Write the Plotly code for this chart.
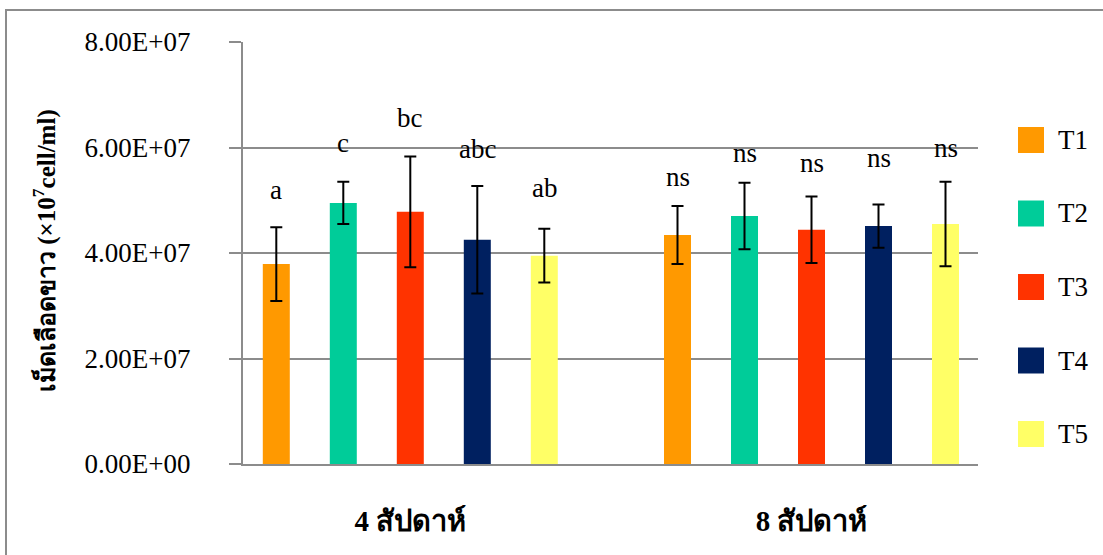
import plotly.graph_objects as go

# White blood cell counts by treatment and sampling week
weeks = ["4 สัปดาห์", "8 สัปดาห์"]
treatments = ["T1", "T2", "T3", "T4", "T5"]
colors = ["#FF9900", "#00CC99", "#FF3300", "#002060", "#FFFF66"]

mean_t1 = [37.9e6, 43.4e6]
mean_t2 = [49.5e6, 47.0e6]
mean_t3 = [47.8e6, 44.4e6]
mean_t4 = [42.5e6, 45.1e6]
mean_t5 = [39.5e6, 45.5e6]

sd_t1 = [7.0e6, 5.5e6]
sd_t2 = [4.0e6, 6.3e6]
sd_t3 = [10.5e6, 6.3e6]
sd_t4 = [10.2e6, 4.1e6]
sd_t5 = [5.1e6, 8.0e6]

# significance letters per treatment, per week
sig_t1 = ["a", "ns"]
sig_t2 = ["c", "ns"]
sig_t3 = ["bc", "ns"]
sig_t4 = ["abc", "ns"]
sig_t5 = ["ab", "ns"]

y_ticks = [0, 2e7, 4e7, 6e7, 8e7]
y_tick_text = [f"{v:.2E}" for v in y_ticks]

means = [mean_t1, mean_t2, mean_t3, mean_t4, mean_t5]
sds = [sd_t1, sd_t2, sd_t3, sd_t4, sd_t5]
sigs = [sig_t1, sig_t2, sig_t3, sig_t4, sig_t5]

# label heights (data units) for the letters above each bar
label_y = [
    [51.9e6, 54.4e6],
    [60.9e6, 59.0e6],
    [65.6e6, 57.1e6],
    [59.7e6, 58.0e6],
    [52.3e6, 59.9e6],
]

W, H = 1103, 555
L, R, T, B = 243, 125, 42, 91
pw, ph = W - L - R, H - T - B

def px_x(x):
    return (x - L) / pw

def px_y(y):
    return (H - B - y) / ph

SERIF = "Liberation Serif, Times New Roman, serif"
GRID = "#8C8C8C"

BARGAP = 0.165
BARGROUPGAP = 0.597
x_pos = list(range(len(weeks)))

fig = go.Figure()
for i, name in enumerate(treatments):
    fig.add_trace(go.Bar(
        x=x_pos, y=means[i], name=name,
        marker=dict(color=colors[i], line=dict(width=0)),
        error_y=dict(type="data", array=sds[i], visible=True,
                     color="black", thickness=2, width=6),
        showlegend=False,
    ))

slot = (1 - BARGAP) / len(treatments)
annotations = []
for i in range(len(treatments)):
    for j in range(len(weeks)):
        annotations.append(dict(
            x=x_pos[j] + (i - (len(treatments) - 1) / 2) * slot,
            y=label_y[i][j], xref="x", yref="y",
            text=sigs[i][j], showarrow=False,
            font=dict(family=SERIF, size=27, color="black"),
            xanchor="center", yanchor="middle",
        ))

# y-axis title
annotations.append(dict(
    x=px_x(45), y=px_y(251), xref="paper", yref="paper",
    text="<b>เม็ดเลือดขาว (×10<sup>7</sup>cell/ml)</b>",
    textangle=-90, showarrow=False,
    font=dict(family=SERIF, size=25, color="black"),
    xanchor="center", yanchor="middle",
))

shapes = []
# legend swatches and names
leg_y = [140, 213.5, 287, 360.5, 434]
for i, name in enumerate(treatments):
    shapes.append(dict(
        type="rect", xref="paper", yref="paper",
        x0=px_x(1018), x1=px_x(1044),
        y0=px_y(leg_y[i] - 13), y1=px_y(leg_y[i] + 13),
        fillcolor=colors[i], line=dict(width=0),
    ))
    annotations.append(dict(
        x=px_x(1056), y=px_y(leg_y[i]), xref="paper", yref="paper",
        text=name, showarrow=False,
        font=dict(family=SERIF, size=27, color="black"),
        xanchor="left", yanchor="middle",
    ))

# chart frame
shapes.append(dict(
    type="rect", xref="paper", yref="paper",
    x0=px_x(6), x1=px_x(1120), y0=px_y(10), y1=px_y(570),
    line=dict(color=GRID, width=2), fillcolor="rgba(0,0,0,0)", layer="below",
))

fig.update_layout(
    width=W, height=H,
    margin=dict(l=L, r=R, t=T, b=B, pad=0),
    paper_bgcolor="white", plot_bgcolor="white",
    barmode="group", bargap=BARGAP, bargroupgap=BARGROUPGAP,
    annotations=annotations, shapes=shapes,
    showlegend=False,
    font=dict(family=SERIF),
    xaxis=dict(
        range=[-0.417, 1.415], tickvals=x_pos, ticktext=[f"<b>{w}</b>" for w in weeks],
        tickfont=dict(family=SERIF, size=29, color="black"),
        showgrid=False, zeroline=False, showline=True, linecolor=GRID, linewidth=2,
        ticks="", ticklabelstandoff=30, fixedrange=True,
    ),
    yaxis=dict(
        range=[0, 8e7], tickvals=y_ticks, ticktext=y_tick_text,
        tickfont=dict(family=SERIF, size=27, color="black"),
        showgrid=True, gridcolor=GRID, gridwidth=2,
        zeroline=False, showline=True, linecolor=GRID, linewidth=2,
        ticks="outside", ticklen=12, tickwidth=2, tickcolor=GRID,
        ticklabelstandoff=33,
    ),
)

fig.write_html("out.html")
